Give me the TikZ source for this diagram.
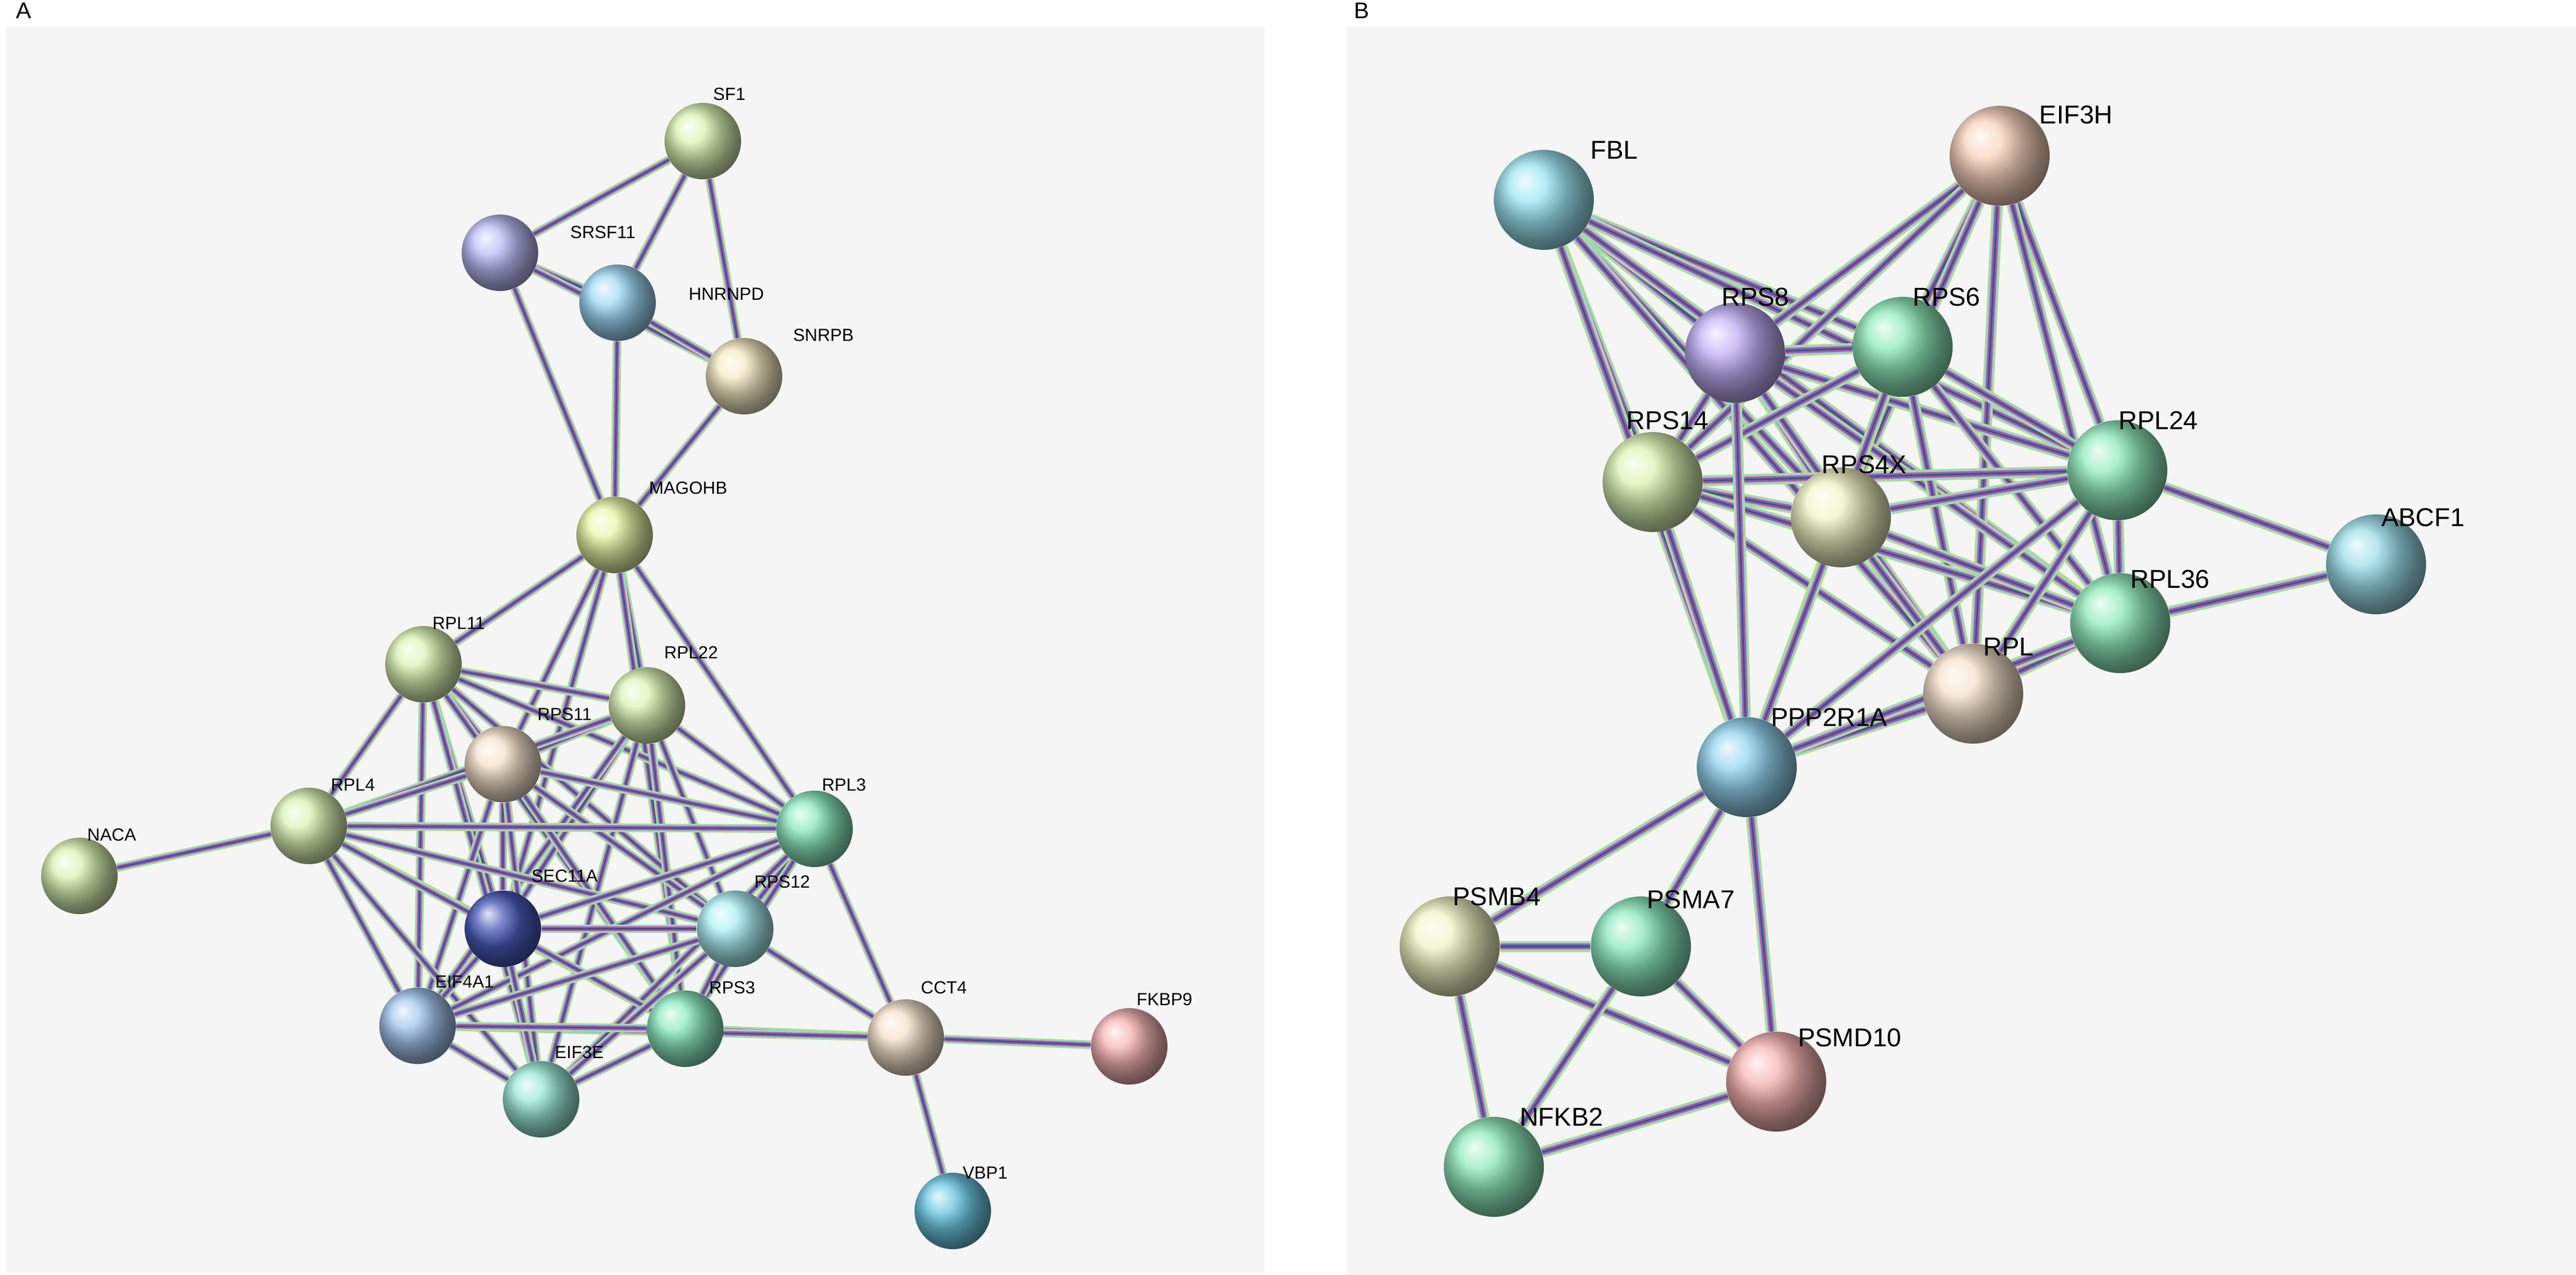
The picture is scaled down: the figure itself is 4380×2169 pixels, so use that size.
\documentclass[tikz,border=0pt]{standalone}
\usepackage{fontspec}
\setmainfont{Liberation Sans}
\definecolor{cLG}{HTML}{DCF4B4}
\definecolor{cPU}{HTML}{BCBCF8}
\definecolor{cLB}{HTML}{A0DAF8}
\definecolor{cTAN}{HTML}{F6EAC4}
\definecolor{cYG}{HTML}{EAF6A8}
\definecolor{cBEI}{HTML}{F6E2CC}
\definecolor{cTG}{HTML}{8CEAC0}
\definecolor{cDB}{HTML}{4858B8}
\definecolor{cCY}{HTML}{ACF0F4}
\definecolor{cBC}{HTML}{A4C6F0}
\definecolor{cTC}{HTML}{9CEAD8}
\definecolor{cPK}{HTML}{F8B4B4}
\definecolor{cVB}{HTML}{6CC8E2}
\definecolor{cFB}{HTML}{9CE6F4}
\definecolor{cPE}{HTML}{FAD4BE}
\definecolor{cVI}{HTML}{C2B0F8}
\definecolor{cGR}{HTML}{90ECBC}
\definecolor{cYL}{HTML}{F2F4C4}
\definecolor{cAB}{HTML}{9CDEEA}
\definecolor{cPP}{HTML}{94D4F0}
\begin{document}
\pgfdeclarelayer{back}\pgfdeclarelayer{mid}\pgfsetlayers{back,mid,main}
\begin{tikzpicture}[x=0.01cm,y=-0.01cm,
 ball/.style={circle,minimum size=1.3cm,inner sep=0pt,shading=ball,ball color=#1},
 bigball/.style={circle,minimum size=1.7cm,inner sep=0pt,shading=ball,ball color=#1},
 lab/.style={font=\fontsize{8.5}{9}\selectfont},
 blab/.style={font=\fontsize{12.5}{13}\selectfont},
 edge/.style={line width=0.4pt,draw=black!70,
   preaction={draw=yellow!50!green!60,line width=4.2pt},
   preaction={draw=cyan!50,line width=3.2pt},
   preaction={draw=magenta!75,line width=2.2pt},
   preaction={draw=teal!70!blue!80,line width=1.2pt}},
 bedge/.style={line width=0.5pt,draw=black!70,
   preaction={draw=yellow!50!green!60,line width=5.4pt},
   preaction={draw=cyan!50,line width=4.1pt},
   preaction={draw=magenta!75,line width=2.8pt},
   preaction={draw=teal!70!blue!80,line width=1.5pt}}]
\useasboundingbox (0,0) rectangle (4380,2169);
\begin{pgfonlayer}{back}
\fill[white] (0,0) rectangle (4380,2169);
\fill[black!4] (10,45) rectangle (2150,2165);
\fill[black!4] (2290,45) rectangle (4380,2169);
\end{pgfonlayer}
\node[font=\fontsize{11}{12}\selectfont] (LA) at (40,18) {A};
\node[font=\fontsize{11}{12}\selectfont] (LB) at (2315,18) {B};
% Panel A nodes
\foreach \n/\x/\y/\c in {SF1/1195/240/cLG, SRSF11/850/430/cPU, HNRNPD/1050/515/cLB,
 SNRPB/1265/640/cTAN, MAGOHB/1045/910/cYG, RPL11/720/1130/cLG,
 RPL22/1100/1200/cLG, RPS11/855/1300/cBEI, RPL4/525/1405/cLG,
 NACA/135/1490/cLG, RPL3/1385/1410/cTG, SEC11A/855/1580/cDB,
 RPS12/1250/1580/cCY, EIF4A1/710/1745/cBC, RPS3/1165/1750/cTG,
 EIF3E/920/1870/cTC, CCT4/1540/1765/cBEI, FKBP9/1920/1780/cPK, VBP1/1620/2060/cVB}
  {\node[ball=\c] (\n) at (\x,\y) {};}
\foreach \n/\x/\y in {SF1/1240/160, SRSF11/1025/395, HNRNPD/1235/500, SNRPB/1400/570, MAGOHB/1170/830,
 RPL11/780/1060, RPL22/1175/1110, RPS11/960/1215, RPL4/600/1335, NACA/190/1420, RPL3/1435/1335,
 SEC11A/960/1490, RPS12/1330/1500, EIF4A1/790/1670, RPS3/1245/1680, EIF3E/985/1790, CCT4/1605/1680,
 FKBP9/1980/1700, VBP1/1675/1995}
  {\node[lab] (l\n) at (\x,\y) {\n};}
% Panel B nodes
\foreach \n/\x/\y/\c in {FBL/2625/340/cFB, EIF3H/3400/265/cPE, RPS8/2950/600/cVI,
 RPS6/3235/590/cGR, RPS14/2810/820/cLG, RPS4X/3130/880/cYL,
 RPL24/3600/800/cGR, ABCF1/4040/960/cAB, RPL36/3605/1060/cGR,
 RPL/3355/1180/cBEI, PPP2R1A/2970/1305/cPP, PSMB4/2465/1610/cYL,
 PSMA7/2790/1610/cTG, PSMD10/3020/1840/cPK, NFKB2/2540/1985/cGR}
  {\node[bigball=\c] (\n) at (\x,\y) {};}
\foreach \n/\x/\y in {FBL/2745/255, EIF3H/3530/195, RPS8/2985/505, RPS6/3310/505, RPS14/2835/715,
 RPS4X/3170/790, RPL24/3670/715, ABCF1/4120/880, RPL36/3690/985, RPL/3415/1100, PPP2R1A/3110/1220,
 PSMB4/2545/1525, PSMA7/2875/1530, PSMD10/3145/1765, NFKB2/2655/1900}
  {\node[blab] (l\n) at (\x,\y) {\n};}
\begin{pgfonlayer}{mid}
\foreach \a/\b in {SF1/SRSF11,SF1/HNRNPD,SF1/SNRPB,SRSF11/HNRNPD,SRSF11/SNRPB,HNRNPD/SNRPB,
 SRSF11/MAGOHB,HNRNPD/MAGOHB,SNRPB/MAGOHB,MAGOHB/RPL11,MAGOHB/RPL22,MAGOHB/RPS11,MAGOHB/RPL3,
 MAGOHB/RPS3,MAGOHB/SEC11A,NACA/RPL4,CCT4/RPS3,CCT4/RPL3,CCT4/RPS12,CCT4/FKBP9,CCT4/VBP1,CCT4/EIF4A1}
  {\draw[edge] (\a) -- (\b);}
\foreach \a/\b in {RPL11/RPL22,RPL11/RPS11,RPL11/RPL4,RPL11/RPL3,RPL11/SEC11A,RPL11/RPS12,RPL11/EIF4A1,RPL11/RPS3,RPL11/EIF3E,
 RPL22/RPS11,RPL22/RPL4,RPL22/RPL3,RPL22/SEC11A,RPL22/RPS12,RPL22/EIF4A1,RPL22/RPS3,RPL22/EIF3E,
 RPS11/RPL4,RPS11/RPL3,RPS11/SEC11A,RPS11/RPS12,RPS11/EIF4A1,RPS11/RPS3,RPS11/EIF3E,
 RPL4/RPL3,RPL4/SEC11A,RPL4/RPS12,RPL4/EIF4A1,RPL4/RPS3,RPL4/EIF3E,
 RPL3/SEC11A,RPL3/RPS12,RPL3/EIF4A1,RPL3/RPS3,RPL3/EIF3E,
 SEC11A/RPS12,SEC11A/EIF4A1,SEC11A/RPS3,SEC11A/EIF3E,
 RPS12/EIF4A1,RPS12/RPS3,RPS12/EIF3E,EIF4A1/RPS3,EIF4A1/EIF3E,RPS3/EIF3E}
  {\draw[edge] (\a) -- (\b);}
\foreach \a/\b in {FBL/RPS8,FBL/RPS6,FBL/RPS14,FBL/RPS4X,FBL/RPL24,FBL/RPL36,FBL/RPL,FBL/PPP2R1A,
 EIF3H/RPS8,EIF3H/RPS6,EIF3H/RPS14,EIF3H/RPS4X,EIF3H/RPL24,EIF3H/RPL36,EIF3H/RPL,
 RPS8/RPS6,RPS8/RPS14,RPS8/RPS4X,RPS8/RPL24,RPS8/RPL36,RPS8/RPL,
 RPS6/RPS14,RPS6/RPS4X,RPS6/RPL24,RPS6/RPL36,RPS6/RPL,
 RPS14/RPS4X,RPS14/RPL24,RPS14/RPL36,RPS14/RPL,RPS4X/RPL24,RPS4X/RPL36,RPS4X/RPL,
 RPL24/RPL36,RPL24/RPL,RPL36/RPL,ABCF1/RPL24,ABCF1/RPL36,
 PPP2R1A/RPS14,PPP2R1A/RPS8,PPP2R1A/RPS6,PPP2R1A/RPS4X,PPP2R1A/RPL24,PPP2R1A/RPL,PPP2R1A/RPL36,
 PPP2R1A/PSMB4,PPP2R1A/PSMA7,PPP2R1A/PSMD10,
 PSMB4/PSMA7,PSMB4/PSMD10,PSMB4/NFKB2,PSMA7/PSMD10,PSMA7/NFKB2,NFKB2/PSMD10}
  {\draw[bedge] (\a) -- (\b);}
\end{pgfonlayer}
\end{tikzpicture}
\end{document}
